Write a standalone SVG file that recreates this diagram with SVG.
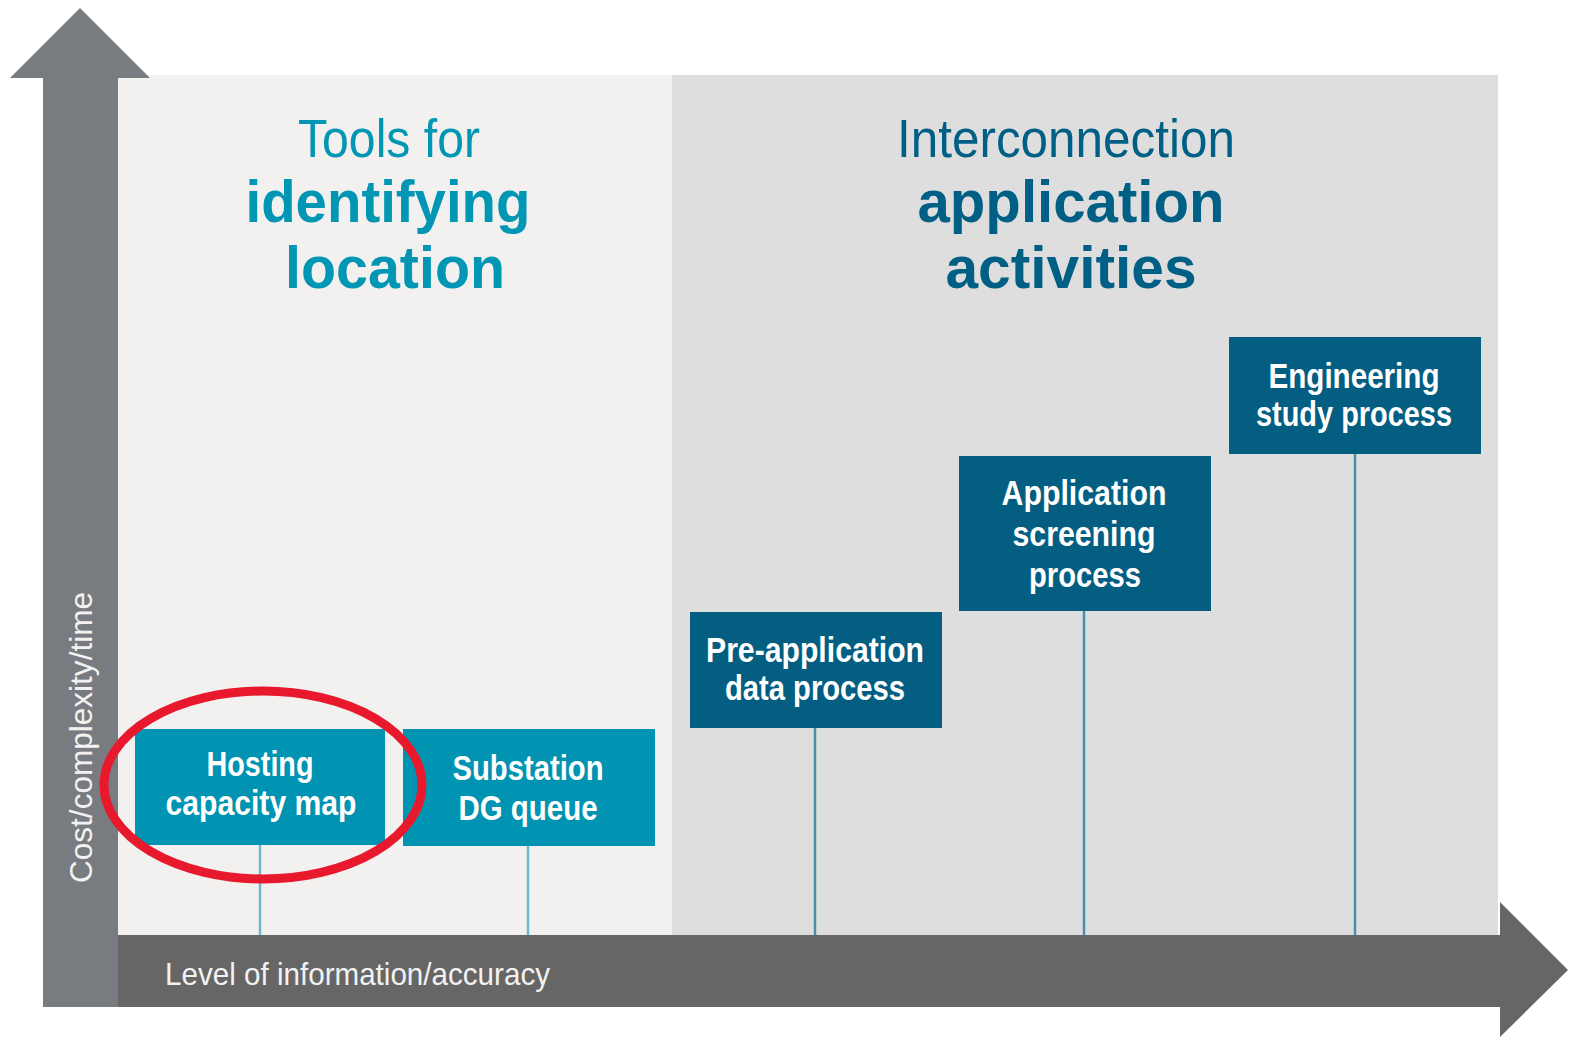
<svg xmlns="http://www.w3.org/2000/svg" width="1583" height="1047" viewBox="0 0 1583 1047">
<style>
  text { font-family: "Liberation Sans", Arial, sans-serif; }
  .boxt { fill: #ffffff; font-weight: bold; font-size: 35px; text-anchor: middle; }
  .box1 { fill: #0093b2; }
  .box2 { fill: #035e82; }
  .c1 { stroke: #6cb8cf; stroke-width: 2.5; fill: none; }
  .c2 { stroke: #4b8eaa; stroke-width: 2.5; fill: none; }
  .ax { fill: #f2f2f2; font-size: 32px; }
  .t1 { font-size: 53px; text-anchor: middle; }
  .t2 { font-size: 59px; font-weight: bold; text-anchor: middle; }
</style>
<rect width="1583" height="1047" fill="#ffffff"/>
<g id="panels">
  <rect x="118" y="75" width="554" height="862" fill="#f2f1ef"/>
  <rect x="672" y="75" width="826" height="862" fill="#dedede"/>
</g>
<g id="titles">
  <text class="t1" x="389" y="157" fill="#0096b4" textLength="182" lengthAdjust="spacingAndGlyphs">Tools for</text>
  <text class="t2" x="388" y="222" fill="#0096b4" textLength="285" lengthAdjust="spacingAndGlyphs">identifying</text>
  <text class="t2" x="395" y="288" fill="#0096b4" textLength="220" lengthAdjust="spacingAndGlyphs">location</text>
  <text class="t1" x="1066" y="157" fill="#005f85" textLength="338" lengthAdjust="spacingAndGlyphs">Interconnection</text>
  <text class="t2" x="1071" y="222" fill="#005f85" textLength="307" lengthAdjust="spacingAndGlyphs">application</text>
  <text class="t2" x="1071" y="288" fill="#005f85" textLength="251" lengthAdjust="spacingAndGlyphs">activities</text>
</g>
<g id="connectors">
  <line class="c1" x1="260" y1="845" x2="260" y2="937"/>
  <line class="c1" x1="528" y1="846" x2="528" y2="937"/>
  <line class="c2" x1="815" y1="728" x2="815" y2="937"/>
  <line class="c2" x1="1084" y1="611" x2="1084" y2="937"/>
  <line class="c2" x1="1355" y1="454" x2="1355" y2="937"/>
</g>
<g id="node-hosting">
  <rect class="box1" x="135" y="729" width="250" height="116"/>
  <text class="boxt" x="260" y="776" textLength="107" lengthAdjust="spacingAndGlyphs">Hosting</text>
  <text class="boxt" x="261" y="815" textLength="191" lengthAdjust="spacingAndGlyphs">capacity map</text>
</g>
<g id="node-substation">
  <rect class="box1" x="403" y="729" width="252" height="117"/>
  <text class="boxt" x="528" y="780" textLength="151" lengthAdjust="spacingAndGlyphs">Substation</text>
  <text class="boxt" x="528" y="820" textLength="139" lengthAdjust="spacingAndGlyphs">DG queue</text>
</g>
<g id="node-preapp">
  <rect class="box2" x="690" y="612" width="252" height="116"/>
  <text class="boxt" x="815" y="662" textLength="218" lengthAdjust="spacingAndGlyphs">Pre-application</text>
  <text class="boxt" x="815" y="700" textLength="180" lengthAdjust="spacingAndGlyphs">data process</text>
</g>
<g id="node-screening">
  <rect class="box2" x="959" y="456" width="252" height="155"/>
  <text class="boxt" x="1084" y="505" textLength="165" lengthAdjust="spacingAndGlyphs">Application</text>
  <text class="boxt" x="1084" y="546" textLength="143" lengthAdjust="spacingAndGlyphs">screening</text>
  <text class="boxt" x="1085" y="587" textLength="112" lengthAdjust="spacingAndGlyphs">process</text>
</g>
<g id="node-engineering">
  <rect class="box2" x="1229" y="337" width="252" height="117"/>
  <text class="boxt" x="1354" y="388" textLength="171" lengthAdjust="spacingAndGlyphs">Engineering</text>
  <text class="boxt" x="1354" y="426" textLength="196" lengthAdjust="spacingAndGlyphs">study process</text>
</g>
<g id="axis-y">
  <polygon points="80,8 150,78 118,78 118,1007 43,1007 43,78 10,78" fill="#787c80"/>
  <text class="ax" transform="translate(92,883) rotate(-90)" x="0" y="0" textLength="291" lengthAdjust="spacingAndGlyphs">Cost/complexity/time</text>
</g>
<g id="axis-x">
  <polygon points="118,935 1500,935 1500,902 1568,970 1500,1037 1500,1007 118,1007" fill="#666666"/>
  <text class="ax" x="165" y="985" textLength="385" lengthAdjust="spacingAndGlyphs">Level of information/accuracy</text>
</g>
<ellipse id="highlight" cx="263" cy="785" rx="159" ry="94" fill="none" stroke="#e8192c" stroke-width="9"/>
</svg>
